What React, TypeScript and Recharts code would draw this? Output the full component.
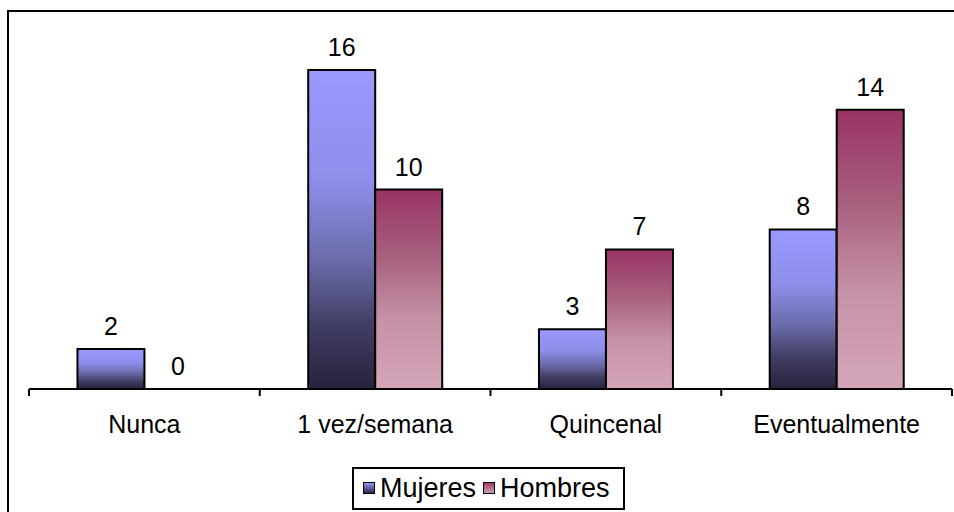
import { BarChart, Bar, XAxis, YAxis, LabelList } from 'recharts'

const categories = ['Nunca', '1 vez/semana', 'Quincenal', 'Eventualmente']
const mujeres = [2, 16, 3, 8]
const hombres = [0, 10, 7, 14]
const seriesNames = ['Mujeres', 'Hombres']

const data = categories.map((name, i) => ({
  name,
  Mujeres: mujeres[i],
  Hombres: hombres[i],
}))

const WIDTH = 954
const HEIGHT = 512
const MARGIN = { top: 30, right: 2, left: 29, bottom: 0 }
const FONT = '"Liberation Sans", Arial, sans-serif'
const FONT_SIZE = 25

// ticks sit on the category edges, so draw them from the band half-width
function CategoryTick(props: any) {
  const { x, y, payload, index, visibleTicksCount } = props
  const half = payload.offset || (WIDTH - MARGIN.left - MARGIN.right) / categories.length / 2
  return (
    <g>
      <line x1={x - half} x2={x - half} y1={y} y2={y + 7} stroke="#000" strokeWidth={2} />
      {index === visibleTicksCount - 1 && (
        <line x1={x + half} x2={x + half} y1={y} y2={y + 7} stroke="#000" strokeWidth={2} />
      )}
      <text x={x} y={y + 44} textAnchor="middle" fill="#000" fontSize={FONT_SIZE} fontFamily={FONT}>
        {payload.value}
      </text>
    </g>
  )
}

// value above each bar
function ValueLabel(props: any) {
  const { x, y, width, value } = props
  if (value === undefined || value === null) return null
  return (
    <text x={x + width / 2} y={y - 14} textAnchor="middle" fill="#000" fontSize={FONT_SIZE} fontFamily={FONT}>
      {String(value)}
    </text>
  )
}

// zero bars get a hairline height so their label still gets a slot
const zeroSlot = (value: any) => (Number(value) === 0 ? 0.01 : 0)

function LegendBox() {
  const swatch = (id: string) => (
    <svg width={12} height={12} style={{ marginRight: 5, position: 'relative', top: -1 }}>
      <rect x={0.5} y={0.5} width={11} height={11} fill={`url(#${id})`} stroke="#000" strokeWidth={1} />
    </svg>
  )
  return (
    <div
      style={{
        position: 'absolute',
        left: 352,
        top: 467,
        width: 273,
        height: 43,
        border: '2px solid #000',
        display: 'flex',
        alignItems: 'center',
        paddingLeft: 9,
        boxSizing: 'border-box',
        fontFamily: FONT,
        fontSize: 27,
        color: '#000',
        background: '#fff',
      }}
    >
      {swatch('legMujeres')}
      <span style={{ marginRight: 7 }}>{seriesNames[0]}</span>
      {swatch('legHombres')}
      <span>{seriesNames[1]}</span>
    </div>
  )
}

export default function App() {
  return (
    <div style={{ position: 'absolute', left: 0, top: 0, width: WIDTH, height: HEIGHT, background: '#fff', overflow: 'hidden' }}>
      <svg width={0} height={0} style={{ position: 'absolute' }}>
        <defs>
          <linearGradient id="legMujeres" x1="0" y1="0" x2="0" y2="1">
            <stop offset="0%" stopColor="#9999ff" />
            <stop offset="100%" stopColor="#26223d" />
          </linearGradient>
          <linearGradient id="legHombres" x1="0" y1="0" x2="0" y2="1">
            <stop offset="0%" stopColor="#993366" />
            <stop offset="100%" stopColor="#d4a5ba" />
          </linearGradient>
        </defs>
      </svg>
      <div
        style={{
          position: 'absolute',
          left: 7,
          top: 10,
          width: WIDTH,
          height: HEIGHT,
          borderLeft: '2px solid #000',
          borderTop: '2px solid #000',
        }}
      />
      <div style={{ position: 'absolute', left: 0, top: 0 }}>
        <BarChart width={WIDTH} height={HEIGHT} data={data} margin={MARGIN} barCategoryGap="21%" barGap={0}>
          <defs>
            <linearGradient id="gradMujeres" x1="0" y1="0" x2="0" y2="1">
              <stop offset="0%" stopColor="#9999ff" />
              <stop offset="35%" stopColor="#8e8eea" />
              <stop offset="60%" stopColor="#6a6aa9" />
              <stop offset="80%" stopColor="#413e64" />
              <stop offset="100%" stopColor="#26223d" />
            </linearGradient>
            <linearGradient id="gradHombres" x1="0" y1="0" x2="0" y2="1">
              <stop offset="0%" stopColor="#993366" />
              <stop offset="35%" stopColor="#a9627f" />
              <stop offset="65%" stopColor="#c692a8" />
              <stop offset="100%" stopColor="#d4a5ba" />
            </linearGradient>
          </defs>
          <YAxis hide domain={[0, 18]} />
          <XAxis
            dataKey="name"
            height={123}
            axisLine={{ stroke: '#000', strokeWidth: 2 }}
            tickLine={false}
            tickSize={0}
            tickMargin={0}
            interval={0}
            tick={<CategoryTick />}
          />
          <Bar dataKey="Mujeres" fill="url(#gradMujeres)" stroke="#000" strokeWidth={2} minPointSize={zeroSlot} isAnimationActive={false}>
            <LabelList dataKey="Mujeres" content={<ValueLabel />} />
          </Bar>
          <Bar dataKey="Hombres" fill="url(#gradHombres)" stroke="#000" strokeWidth={2} minPointSize={zeroSlot} isAnimationActive={false}>
            <LabelList dataKey="Hombres" content={<ValueLabel />} />
          </Bar>
        </BarChart>
      </div>
      <LegendBox />
    </div>
  )
}
